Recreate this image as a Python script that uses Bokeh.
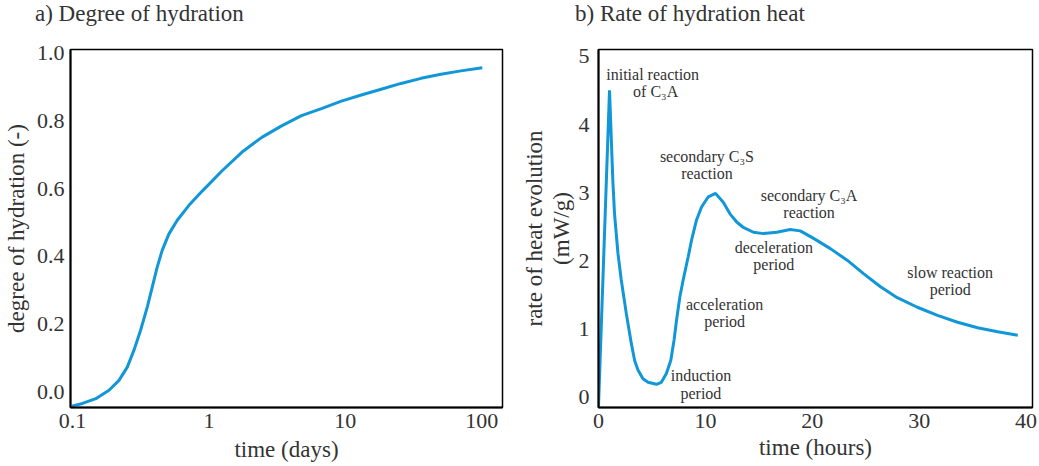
from bokeh.plotting import figure
from bokeh.layouts import row, column
from bokeh.models import FixedTicker, CustomJSTickFormatter, ColumnDataSource, Range1d, Div
from bokeh.core.properties import value
from bokeh.embed import file_html
from bokeh.resources import INLINE

# ---- data: a) degree of hydration ----
days = [0.0988, 0.1183, 0.148, 0.185, 0.219, 0.252, 0.282, 0.315, 0.353, 0.384,
        0.417, 0.454, 0.508, 0.584, 0.711, 0.889, 1.244, 1.741, 2.44, 3.41, 4.77,
        6.68, 9.35, 13.1, 18.3, 25.6, 35.9, 50.2, 70.3, 101.0]
hydration = [-0.041, -0.033, -0.019, 0.006, 0.035, 0.074, 0.124, 0.182, 0.251, 0.310,
             0.368, 0.418, 0.466, 0.506, 0.550, 0.592, 0.652, 0.707, 0.751, 0.785, 0.815,
             0.836, 0.858, 0.876, 0.893, 0.910, 0.925, 0.937, 0.947, 0.956]
days_ticks = [0.1, 1, 10, 100]
hyd_ticks = [0.0, 0.2, 0.4, 0.6, 0.8, 1.0]

# ---- data: b) rate of hydration heat ----
hours = [0.0, 1.03, 1.34, 1.50, 1.82, 2.13, 2.60, 3.07, 3.38, 3.69, 4.16, 4.63, 5.42,
         5.88, 6.35, 6.76, 7.07, 7.30, 7.61, 7.92, 8.39, 8.70, 9.17, 9.64, 10.27, 10.95,
         11.67, 12.30, 12.93, 13.55, 14.49, 15.43, 16.68, 17.93, 18.87, 20.12, 21.69,
         23.26, 24.82, 26.38, 27.95, 29.83, 31.71, 33.59, 35.46, 37.34, 39.22]
heat_rate = [-0.13, 4.50, 3.18, 2.69, 2.11, 1.72, 1.23, 0.79, 0.54, 0.40, 0.27, 0.22, 0.19,
             0.22, 0.35, 0.54, 0.84, 1.13, 1.47, 1.72, 2.06, 2.30, 2.60, 2.79, 2.94, 2.99,
             2.86, 2.69, 2.57, 2.49, 2.42, 2.40, 2.42, 2.46, 2.44, 2.33, 2.18,
             2.01, 1.81, 1.62, 1.46, 1.32, 1.20, 1.10, 1.02, 0.96, 0.91]
hours_ticks = [0, 10, 20, 30, 40]
rate_ticks = [0, 1, 2, 3, 4, 5]

ann_text = ["initial reaction", "of C\u2083A",
            "secondary C\u2083S", "reaction",
            "secondary C\u2083A", "reaction",
            "deceleration", "period",
            "acceleration", "period",
            "induction", "period",
            "slow reaction", "period"]
ann_x = [5.07, 5.35, 10.14, 10.14, 19.7, 19.7, 16.4, 16.4, 11.8, 11.8, 9.58, 9.58, 32.9, 32.9]
ann_y = [4.74, 4.49, 3.53, 3.28, 2.96, 2.71, 2.20, 1.94, 1.36, 1.11, 0.32, 0.06, 1.83, 1.58]

FONT = "Liberation Serif"
TXT = "#333333"
BLUE = "#1197d8"


def title_div(text, width, left_pad):
    return Div(text=text, width=width, height=30, margin=0,
               styles={"font-family": "'Liberation Serif', serif", "font-size": "23px",
                       "color": TXT, "line-height": "28px", "padding-left": f"{left_pad}px",
                       "white-space": "nowrap", "box-sizing": "border-box"})


def style(p):
    p.outline_line_color = "black"
    p.outline_line_width = 1.5
    p.outline_line_alpha = 1
    p.xgrid.visible = False
    p.ygrid.visible = False
    for ax in (p.xaxis[0], p.yaxis[0]):
        ax.axis_label_text_font = FONT
        ax.axis_label_text_font_size = "23px"
        ax.axis_label_text_font_style = "normal"
        ax.axis_label_text_color = TXT
        ax.major_label_text_font = FONT
        ax.major_label_text_font_size = "22px"
        ax.major_label_text_color = TXT
        ax.major_tick_in = 0
        ax.major_tick_out = 0
        ax.minor_tick_in = 0
        ax.minor_tick_out = 0
        ax.axis_line_color = "black"
        ax.axis_line_width = 2


# ---- left figure ----
p1 = figure(width=519, height=436, x_axis_type="log",
            x_range=Range1d(0.0966, 142), y_range=Range1d(-0.045, 1.01),
            output_backend="svg", toolbar_location=None, margin=0,
            min_border_left=68, min_border_right=17, min_border_top=19, min_border_bottom=59)
p1.line(days, hydration, line_color=BLUE, line_width=3)
style(p1)
p1.xaxis.ticker = FixedTicker(ticks=days_ticks, minor_ticks=[])
p1.xaxis.formatter = CustomJSTickFormatter(code="return String(tick);")
p1.yaxis.ticker = FixedTicker(ticks=hyd_ticks, minor_ticks=[])
p1.yaxis.formatter = CustomJSTickFormatter(code="return tick.toFixed(1);")
p1.xaxis.axis_label = "time (days)"
p1.yaxis.axis_label = "degree of hydration (-)"
p1.xaxis.major_label_standoff = 6
p1.yaxis.major_label_standoff = 6
p1.xaxis.axis_label_standoff = 6
p1.yaxis.axis_label_standoff = 5

# ---- right figure ----
p2 = figure(width=520, height=436,
            x_range=Range1d(0, 40.6), y_range=Range1d(-0.15, 5.1),
            output_backend="svg", toolbar_location=None, margin=0,
            min_border_left=79, min_border_right=7, min_border_top=19, min_border_bottom=59)
p2.line(hours, heat_rate, line_color=BLUE, line_width=3)
src = ColumnDataSource(dict(x=ann_x, y=ann_y, t=ann_text))
p2.text(x="x", y="y", text="t", source=src, text_align="center", text_baseline="middle",
        text_font=value(FONT), text_font_size="16px", text_color=TXT)
style(p2)
p2.xaxis.ticker = FixedTicker(ticks=hours_ticks, minor_ticks=[])
p2.yaxis.ticker = FixedTicker(ticks=rate_ticks, minor_ticks=[])
p2.xaxis.axis_label = "time (hours)"
p2.yaxis.axis_label = "rate of heat evolution\n(mW/g)"
p2.yaxis.axis_label_text_line_height = 1.05
p2.xaxis.major_label_standoff = 6
p2.yaxis.major_label_standoff = 9
p2.xaxis.axis_label_standoff = 4
p2.yaxis.axis_label_standoff = 2

d1 = title_div("a) Degree of hydration", 519, 35)
d2 = title_div("b) Rate of hydration heat", 520, 56)

layout = column(row(d1, d2, margin=0), row(p1, p2, margin=0), margin=0)
open("out.html", "w").write(file_html(layout, INLINE))
